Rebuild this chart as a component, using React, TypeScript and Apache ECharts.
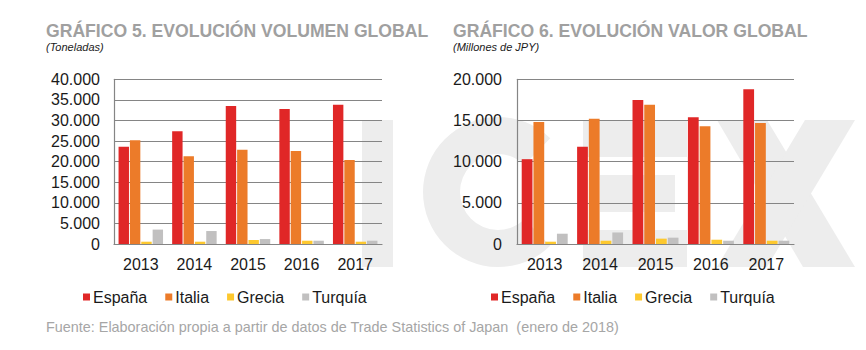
import React, { useEffect, useRef } from "react";
import * as echarts from "echarts";

const years = ["2013", "2014", "2015", "2016", "2017"];
const seriesNames = ["España", "Italia", "Grecia", "Turquía"];
const colors = ["#e02727", "#ec7b29", "#fdc82e", "#c1c0c0"];

// Gráfico 5: volumen (toneladas)
const volEspana = [23600, 27400, 33500, 32800, 33800];
const volItalia = [25200, 21300, 22900, 22600, 20400];
const volGrecia = [560, 560, 970, 800, 560];
const volTurquia = [3500, 3150, 1200, 800, 800];

// Gráfico 6: valor (millones de JPY)
const valEspana = [10300, 11800, 17500, 15400, 18800];
const valItalia = [14800, 15200, 16900, 14300, 14700];
const valGrecia = [280, 400, 650, 520, 400];
const valTurquia = [1250, 1400, 770, 400, 400];

const title1 = "GRÁFICO 5. EVOLUCIÓN VOLUMEN GLOBAL";
const sub1 = "(Toneladas)";
const title2 = "GRÁFICO 6. EVOLUCIÓN VALOR GLOBAL";
const sub2 = "(Millones de JPY)";
const source =
  "Fuente: Elaboración propia a partir de datos de Trade Statistics of Japan  (enero de 2018)";

const fmt = (v: number) => String(v).replace(/\B(?=(\d{3})+(?!\d))/g, ".");

const FONT = "'Liberation Sans', Arial, Helvetica, sans-serif";
const WM = "#ededed";

export default function App() {
  const ref = useRef<HTMLDivElement>(null);
  useEffect(() => {
    document.body.style.margin = "0";
    const chart = echarts.init(ref.current!, undefined, { renderer: "svg" });
    const vol = [volEspana, volItalia, volGrecia, volTurquia];
    const val = [valEspana, valItalia, valGrecia, valTurquia];
    const mkSeries = (data: number[][], idx: number) =>
      data.map((d, i) => ({
        name: seriesNames[i],
        type: "bar",
        xAxisIndex: idx,
        yAxisIndex: idx,
        data: d,
        barGap: "9%",
        barCategoryGap: "17%",
        itemStyle: { color: colors[i] },
      }));
    const xAx = (gi: number) => ({
      type: "category",
      gridIndex: gi,
      data: years,
      axisLine: { lineStyle: { color: "#858585", width: 1.2 } },
      axisTick: { show: false },
      axisLabel: { color: "#1a1a1a", fontSize: 16, fontFamily: FONT, margin: 12 },
    });
    const yAx = (gi: number, max: number, interval: number, margin: number) => ({
      type: "value",
      gridIndex: gi,
      min: 0,
      max,
      interval,
      axisLine: { show: true, lineStyle: { color: "#858585", width: 1.2 } },
      axisTick: { show: false },
      splitLine: { lineStyle: { color: "#858585", width: 1.2 } },
      axisLabel: {
        color: "#1a1a1a",
        fontSize: 16,
        fontFamily: FONT,
        margin,
        formatter: (v: number) => fmt(v),
      },
    });
    const legend = (left: number) => ({
      left,
      top: 289,
      padding: 0,
      icon: "rect",
      itemWidth: 7,
      itemHeight: 7,
      itemGap: 18,
      data: seriesNames,
      textStyle: { fontSize: 16, color: "#1a1a1a", fontFamily: FONT, padding: [0, 0, 0, -2] },
    });
    const txt = (x: number, y: number, text: string, font: string, fill: string) => ({
      type: "text",
      x,
      y,
      z: 10,
      style: { text, font, fill, verticalAlign: "middle" },
    });
    chart.setOption({
      animation: false,
      grid: [
        { left: 114, top: 79.3, width: 268, height: 164.7 },
        { left: 517, top: 79.3, width: 277, height: 164.7 },
      ],
      xAxis: [xAx(0), xAx(1)],
      yAxis: [yAx(0, 40000, 5000, 14), yAx(1, 20000, 5000, 15)],
      legend: [legend(83), legend(491)],
      series: [...mkSeries(vol, 0), ...mkSeries(val, 1)],
      graphic: [
        // watermark ICEX
        { type: "rect", z: -10, shape: { x: 362, y: 120, width: 31, height: 147 }, style: { fill: WM } },
        {
          type: "sector",
          z: -10,
          shape: { cx: 498, cy: 192, r0: 38, r: 75, startAngle: 0.8, endAngle: Math.PI * 2 - 0.8, clockwise: true },
          style: { fill: WM },
        },
        { type: "rect", z: -10, shape: { x: 583, y: 120, width: 104, height: 37 }, style: { fill: WM } },
        { type: "rect", z: -10, shape: { x: 600, y: 175, width: 75, height: 37 }, style: { fill: WM } },
        { type: "rect", z: -10, shape: { x: 583, y: 230, width: 104, height: 37 }, style: { fill: WM } },
        {
          type: "polygon",
          z: -10,
          shape: { points: [[717, 120], [767, 120], [855, 267], [803, 267]] },
          style: { fill: WM },
        },
        {
          type: "polygon",
          z: -10,
          shape: { points: [[805, 120], [855, 120], [767, 267], [717, 267]] },
          style: { fill: WM },
        },
        txt(46, 30.5, title1, `bold 17.6px ${FONT}`, "#a0a0a0"),
        txt(46, 47, sub1, `italic 11px ${FONT}`, "#1a1a1a"),
        txt(453, 30.5, title2, `bold 17.6px ${FONT}`, "#a0a0a0"),
        txt(453, 47, sub2, `italic 11px ${FONT}`, "#1a1a1a"),
        txt(46, 327, source, `14.4px ${FONT}`, "#a6a6a6"),
      ],
    });
    return () => chart.dispose();
  }, []);
  return <div ref={ref} style={{ width: 866, height: 350 }} />;
}
